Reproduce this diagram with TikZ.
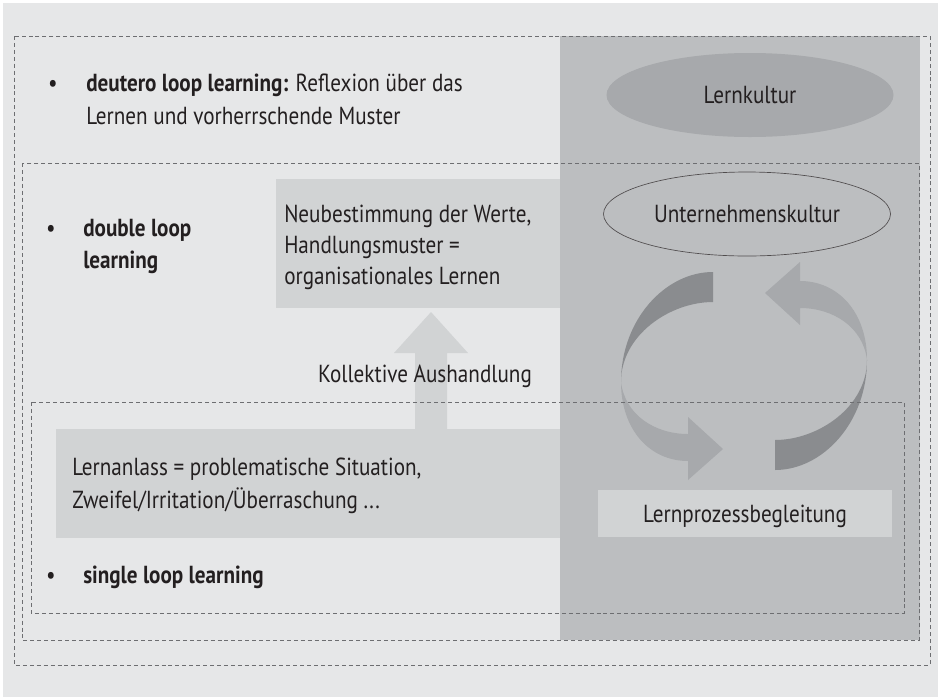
\documentclass[tikz,border=0pt]{standalone}
\usepackage{fontspec}
\setmainfont{PT Sans}[FakeStretch=0.857]
\usetikzlibrary{shapes.geometric}
\definecolor{bgc}{HTML}{E6E7E8}
\definecolor{colc}{HTML}{BCBEC0}
\definecolor{boxc}{HTML}{D1D3D4}
\definecolor{ellc}{HTML}{A7A9AC}
\definecolor{darkarr}{HTML}{8A8C8F}
\definecolor{lightarr}{HTML}{A7A9AC}
\definecolor{dashc}{HTML}{6D6E71}
\definecolor{txtc}{HTML}{231F20}
\begin{document}
\begin{tikzpicture}[x=0.75pt,y=-0.75pt,
  txt/.style={inner sep=0pt, anchor=base west, font=\fontsize{18.5}{22}\selectfont, text=txtc},
  ctxt/.style={inner sep=0pt, anchor=base, font=\fontsize{18.5}{22}\selectfont, text=txtc},
  dashbox/.style={draw=dashc, line width=0.6pt, dash pattern=on 3pt off 2.2pt},
  ellbox/.style={ellipse, minimum width=215.25pt, minimum height=63pt, inner sep=0pt}]
\useasboundingbox (0,0) rectangle (938,697);
\fill[white] (0,0) rectangle (938,697);
\fill[bgc] (3,3) rectangle (938,697);
% right column
\fill[colc] (560,36) rectangle (920,640);
% boxes
\fill[boxc] (276,179) rectangle (560,308);
\fill[boxc] (56,429) rectangle (560,538);
\fill[boxc] (598,490) rectangle (892,537);
% block arrow up
\fill[boxc] (415,429) -- (415,353) -- (394,353) -- (431,312) -- (468,353) -- (447,353) -- (447,429) -- cycle;
% ellipses
\node[ellbox, fill=ellc] (lk) at (750,95) {};
\node[ellbox, fill=colc, draw=txtc!80, line width=0.5pt] (uk) at (747,214) {};
% circular arrows
\fill[darkarr] (713,272) .. controls (665,272) and (621,320) .. (621,382) .. controls (621,335) and (670,302) .. (713,302) -- cycle;
\fill[lightarr] (621,382) .. controls (621,430) and (650,461) .. (688,461) -- (688,480) -- (723,449) -- (688,417) -- (688,434) .. controls (655,434) and (625,415) .. (621,382) -- cycle;
\begin{scope}[rotate around={180:(744,371)}]
\fill[darkarr] (713,272) .. controls (665,272) and (621,320) .. (621,382) .. controls (621,335) and (670,302) .. (713,302) -- cycle;
\fill[lightarr] (621,382) .. controls (621,430) and (650,461) .. (688,461) -- (688,480) -- (723,449) -- (688,417) -- (688,434) .. controls (655,434) and (625,415) .. (621,382) -- cycle;
\end{scope}
% dashed frames
\draw[dashbox] (14,36) rectangle (930,665);
\draw[dashbox] (22,163) rectangle (919,640);
\draw[dashbox] (31,402) rectangle (904,613);
% texts
\node[ctxt] (b1) at (53,91) {•};
\node[txt] (d1) at (86,91) {\textbf{deutero loop learning:} Reflexion über das};
\node[txt] (d2) at (86,124) {Lernen und vorherrschende Muster};
\node[ctxt] (b2) at (51,236) {•};
\node[txt] (dl1) at (83,236) {\textbf{double loop}};
\node[txt] (dl2) at (83,268) {\textbf{learning}};
\node[ctxt] (b3) at (51,583) {•};
\node[txt] (sl) at (83,583) {\textbf{single loop learning}};
\node[txt] (n1) at (284,222) {Neubestimmung der Werte,};
\node[txt] (n2) at (284,253) {Handlungsmuster =};
\node[txt] (n3) at (284,284) {organisationales Lernen};
\node[ctxt] (ka) at (425,382) {Kollektive Aushandlung};
\node[txt] (l1) at (72,475) {Lernanlass = problematische Situation,};
\node[txt] (l2) at (72,508) {Zweifel/Irritation/Überraschung ...};
\node[ctxt] (lp) at (745,522) {Lernprozessbegleitung};
\node[ctxt] (lkt) at (750,103) {Lernkultur};
\node[ctxt] (ukt) at (747,222) {Unternehmenskultur};
\end{tikzpicture}
\end{document}
